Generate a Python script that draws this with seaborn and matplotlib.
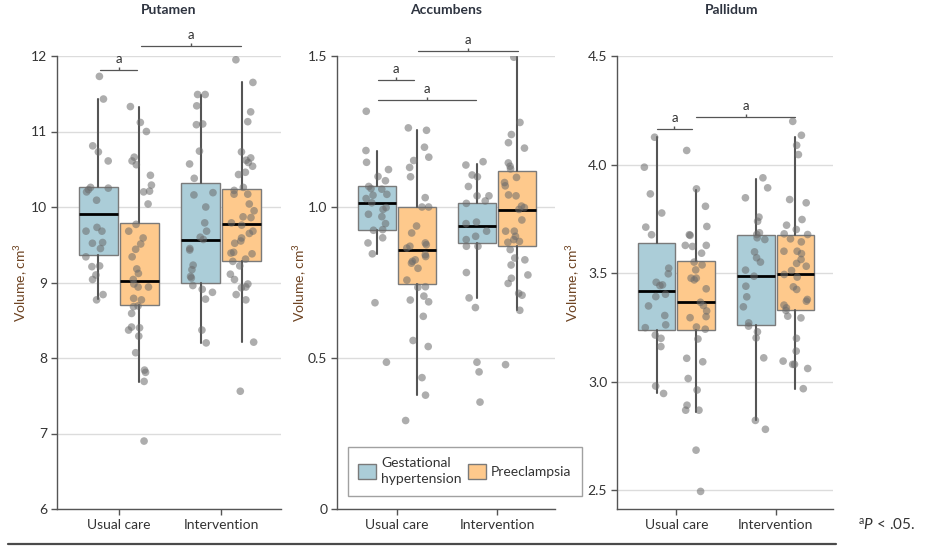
import numpy as np
import pandas as pd
import matplotlib
matplotlib.use("Agg")
import matplotlib.pyplot as plt
import seaborn as sns
from matplotlib.patches import Patch

# ---------------- data ----------------
categories = ["Usual care", "Intervention"]
groups = ["Gestational hypertension", "Preeclampsia"]
legend_labels = ["Gestational\nhypertension", "Preeclampsia"]
regions = ["Putamen", "Accumbens", "Pallidum"]

# Putamen points
put_gh_usual = [11.73, 11.43, 10.81, 10.73, 10.61, 10.25, 10.23, 10.26, 10.20, 10.09, 9.68, 9.73,
                9.68, 9.52, 9.53, 9.45, 9.34, 9.22, 9.21, 9.10, 9.04, 8.84, 8.77]
put_pe_usual = [11.33, 11.12, 11.00, 10.66, 10.61, 10.56, 10.42, 10.29, 10.20, 10.21, 10.04, 9.77,
                9.68, 9.59, 9.51, 9.44, 9.34, 9.18, 9.12, 9.04, 8.98, 8.94, 8.94, 8.77, 8.79, 8.68,
                8.69, 8.59, 8.41, 8.40, 8.37, 8.29, 8.07, 7.84, 7.81, 7.69, 6.90]
put_gh_interv = [11.49, 11.49, 11.34, 11.10, 11.09, 10.74, 10.57, 10.38, 10.19, 10.16, 10.00, 9.79,
                 9.68, 9.60, 9.57, 9.43, 9.45, 9.23, 9.17, 9.08, 9.06, 8.91, 8.96, 8.87, 8.78, 8.37, 8.20]
put_pe_interv = [11.95, 11.65, 11.26, 11.13, 10.73, 10.65, 10.59, 10.62, 10.54, 10.46, 10.43, 10.26,
                 10.22, 10.17, 10.17, 10.04, 9.95, 9.86, 9.87, 9.79, 9.76, 9.68, 9.65, 9.59, 9.55,
                 9.52, 9.40, 9.39, 9.38, 9.31, 9.28, 9.22, 9.11, 9.04, 8.98, 8.94, 8.93, 8.84, 8.77,
                 8.21, 7.56]

# Accumbens points
acc_gh_usual = [1.317, 1.187, 1.148, 1.124, 1.101, 1.087, 1.068, 1.061, 1.059, 1.042, 1.039, 1.028,
                0.998, 1.014, 0.992, 0.976, 0.968, 0.945, 0.925, 0.923, 0.898, 0.881, 0.845, 0.683,
                0.486]
acc_pe_usual = [1.262, 1.254, 1.198, 1.165, 1.154, 1.131, 1.100, 1.031, 1.000, 1.000, 0.937, 0.914,
                0.881, 0.875, 0.864, 0.870, 0.842, 0.836, 0.820, 0.814, 0.825, 0.797, 0.758, 0.736,
                0.734, 0.705, 0.692, 0.686, 0.638, 0.558, 0.538, 0.435, 0.377, 0.293]
acc_gh_interv = [1.139, 1.150, 1.106, 1.100, 1.068, 1.037, 1.037, 1.020, 1.012, 0.950, 0.945, 0.920,
                 0.903, 0.892, 0.870, 0.870, 0.783, 0.699, 0.667, 0.486, 0.454, 0.354]
acc_pe_interv = [1.496, 1.280, 1.213, 1.240, 1.195, 1.146, 1.135, 1.126, 1.098, 1.081, 1.070, 1.037,
                 1.040, 1.003, 0.998, 0.992, 0.957, 0.920, 0.920, 0.903, 0.892, 0.886, 0.883, 0.859,
                 0.825, 0.808, 0.831, 0.775, 0.764, 0.747, 0.708, 0.714, 0.658, 0.478]

# Pallidum points
pal_gh_usual = [4.126, 3.988, 3.865, 3.777, 3.712, 3.677, 3.523, 3.497, 3.458, 3.446, 3.443, 3.392,
                3.403, 3.349, 3.305, 3.249, 3.262, 3.200, 3.215, 3.162, 2.980, 2.946]
pal_pe_usual = [4.065, 3.888, 3.808, 3.715, 3.677, 3.674, 3.628, 3.623, 3.628, 3.592, 3.551, 3.538,
                3.515, 3.477, 3.469, 3.477, 3.428, 3.366, 3.351, 3.300, 3.295, 3.326, 3.242, 3.252,
                3.197, 3.108, 3.092, 3.015, 2.962, 2.892, 2.869, 2.869, 2.685, 2.495]
pal_gh_interv = [3.939, 3.893, 3.847, 3.758, 3.739, 3.686, 3.678, 3.663, 3.655, 3.598, 3.571, 3.551,
                 3.514, 3.486, 3.440, 3.391, 3.345, 3.256, 3.271, 3.202, 3.230, 3.110, 2.822, 2.781]
pal_pe_interv = [4.199, 4.135, 4.089, 4.046, 3.839, 3.824, 3.747, 3.721, 3.701, 3.678, 3.681, 3.658,
                 3.644, 3.601, 3.590, 3.601, 3.563, 3.545, 3.532, 3.512, 3.482, 3.494, 3.425, 3.437,
                 3.379, 3.371, 3.340, 3.353, 3.328, 3.302, 3.294, 3.200, 3.141, 3.080, 3.095, 3.080,
                 3.061, 2.968]

# Box statistics: [lower whisker, Q1, median, Q3, upper whisker]
put_box_gh_usual = [8.78, 9.36, 9.91, 10.26, 11.43]
put_box_pe_usual = [7.68, 8.70, 9.02, 9.79, 11.33]
put_box_gh_interv = [8.20, 9.00, 9.56, 10.32, 11.49]
put_box_pe_interv = [8.21, 9.28, 9.78, 10.24, 11.65]

acc_box_gh_usual = [0.845, 0.925, 1.014, 1.069, 1.187]
acc_box_pe_usual = [0.378, 0.744, 0.859, 1.000, 1.254]
acc_box_gh_interv = [0.699, 0.881, 0.937, 1.012, 1.143]
acc_box_pe_interv = [0.658, 0.870, 0.989, 1.118, 1.496]

pal_box_gh_usual = [2.946, 3.238, 3.417, 3.638, 4.126]
pal_box_pe_usual = [2.862, 3.238, 3.366, 3.557, 3.885]
pal_box_gh_interv = [2.822, 3.262, 3.489, 3.675, 3.934]
pal_box_pe_interv = [2.968, 3.330, 3.497, 3.675, 4.126]

# Significance brackets: (x start, x end, y)
put_brackets = [(-0.18, 0.18, 11.82), (0.22, 1.19, 12.13)]
acc_brackets = [(0.21, 1.21, 1.517), (-0.19, 0.17, 1.421), (-0.19, 0.79, 1.353)]
pal_brackets = [(-0.20, 0.16, 4.164), (0.20, 1.20, 4.221)]

y_limits = [(6, 12), (0, 1.5), (2.414, 4.5)]
y_ticks = [[6, 7, 8, 9, 10, 11, 12], [0, 0.5, 1.0, 1.5], [2.5, 3.0, 3.5, 4.0, 4.5]]
y_ticklabels = [["6", "7", "8", "9", "10", "11", "12"], ["0", "0.5", "1.0", "1.5"],
                ["2.5", "3.0", "3.5", "4.0", "4.5"]]

# ---------------- style ----------------
sns.set_style("white")
plt.rcParams["font.family"] = ["Lato", "DejaVu Sans"]
plt.rcParams["mathtext.fontset"] = "custom"
plt.rcParams["mathtext.rm"] = "Lato"
plt.rcParams["mathtext.it"] = "Lato:italic"

BLUE = "#abcdd8"
ORANGE = "#fec98c"
EDGE = "#7a7a7a"
AX = "#555555"
TXT = "#333333"
YLAB = "#6e4423"
colors = [BLUE, ORANGE]

fig = plt.figure(figsize=(9.27, 5.49), dpi=100)
W, H = 927.0, 549.0
ax_px = [(57, 281), (337, 555), (617, 833)]
top_px, bot_px = 56, 509
ylabel_x = [-0.12, -0.128, -0.162]
title_x = [0.5, 0.5, 0.53]

points = [
    [[put_gh_usual, put_pe_usual], [put_gh_interv, put_pe_interv]],
    [[acc_gh_usual, acc_pe_usual], [acc_gh_interv, acc_pe_interv]],
    [[pal_gh_usual, pal_pe_usual], [pal_gh_interv, pal_pe_interv]],
]
boxes = [
    [[put_box_gh_usual, put_box_pe_usual], [put_box_gh_interv, put_box_pe_interv]],
    [[acc_box_gh_usual, acc_box_pe_usual], [acc_box_gh_interv, acc_box_pe_interv]],
    [[pal_box_gh_usual, pal_box_pe_usual], [pal_box_gh_interv, pal_box_pe_interv]],
]
brackets = [put_brackets, acc_brackets, pal_brackets]

np.random.seed(3)
for i, region in enumerate(regions):
    l, r = ax_px[i]
    ax = fig.add_axes([l / W, 1 - bot_px / H, (r - l) / W, (bot_px - top_px) / H])

    rows = []
    for ci, cat in enumerate(categories):
        for gi, grp in enumerate(groups):
            for v in points[i][ci][gi]:
                rows.append({"care": cat, "group": grp, "vol": v})
    df = pd.DataFrame(rows)

    # boxes
    for ci in range(2):
        for gi in range(2):
            lo, q1, med, q3, hi = boxes[i][ci][gi]
            st = [dict(whislo=lo, q1=q1, med=med, q3=q3, whishi=hi, fliers=[])]
            ax.bxp(st, positions=[ci + (gi - 0.5) * 0.4], widths=0.38, patch_artist=True,
                   showfliers=False, showcaps=False, manage_ticks=False,
                   boxprops=dict(facecolor=colors[gi], edgecolor=EDGE, linewidth=1.0),
                   medianprops=dict(color="black", linewidth=2.0, solid_capstyle="butt"),
                   whiskerprops=dict(color=AX, linewidth=1.5), zorder=2)

    sns.stripplot(data=df, x="care", y="vol", hue="group", order=categories,
                  hue_order=groups, dodge=True, jitter=0.25,
                  palette=["#6b6b6b", "#6b6b6b"], size=5.5, alpha=0.55,
                  linewidth=0, legend=False, ax=ax, zorder=4)

    ax.set_xlim(-0.6, 1.58)
    ax.set_ylim(*y_limits[i])
    ax.set_yticks(y_ticks[i])
    ax.set_yticklabels(y_ticklabels[i])
    ax.set_xticks([0, 1])
    ax.set_xticklabels(categories)
    ax.set_xlabel("")
    ax.set_ylabel(r"Volume, cm$^{3}$", fontsize=10, color=YLAB)
    ax.yaxis.set_label_coords(ylabel_x[i], 0.5)
    ax.set_title(region, fontsize=10, fontweight="bold", color="#2e3440", pad=30, x=title_x[i])

    ax.grid(False)
    for t in y_ticks[i]:
        ax.axhline(t, color="#dcdcdc", linewidth=1.0, zorder=0)
    for s in ["top", "right"]:
        ax.spines[s].set_visible(False)
    for s in ["left", "bottom"]:
        ax.spines[s].set_color(AX)
        ax.spines[s].set_linewidth(1.0)
    ax.tick_params(axis="both", which="major", length=4, width=1, color=AX,
                   labelsize=10, labelcolor=TXT, pad=3, direction="out",
                   left=True, bottom=True)

    # significance brackets
    for (x1, x2, y) in brackets[i]:
        ax.plot([x1, x2], [y, y], color=AX, linewidth=0.9, clip_on=False, zorder=5)
        ax.plot([(x1 + x2) / 2], [y], marker=2, markersize=2.5, color=AX,
                clip_on=False, zorder=5)
        ax.annotate("a", xy=((x1 + x2) / 2, y), xytext=(0, 5), textcoords="offset points",
                    ha="center", va="baseline", fontsize=9.5, color=TXT, annotation_clip=False)

# legend
handles = [Patch(facecolor=c, edgecolor=EDGE, linewidth=1.0) for c in colors]
leg = fig.legend(handles, legend_labels, loc="upper left",
                 bbox_to_anchor=(348 / W, 1 - 447 / H), ncol=2, frameon=True,
                 fancybox=False, edgecolor="#8a8a8a", fontsize=10, borderpad=0.75,
                 handlelength=1.3, handleheight=1.3, handletextpad=0.35,
                 columnspacing=0.45, borderaxespad=0)
leg.get_frame().set_linewidth(1.0)
for t in leg.get_texts():
    t.set_color(TXT)
    t.set_linespacing(1.4)

# footer
fig.add_artist(plt.Line2D([8 / W, 836 / W], [1 - 544 / H, 1 - 544 / H],
                          color="#4a4a4a", linewidth=1.6))
fig.text(858 / W, 1 - 530 / H, r"$^{\mathrm{a}}\mathit{P}$ < .05.", fontsize=11,
         color=TXT, ha="left", va="baseline")

fig.savefig("out.png", dpi=100)
